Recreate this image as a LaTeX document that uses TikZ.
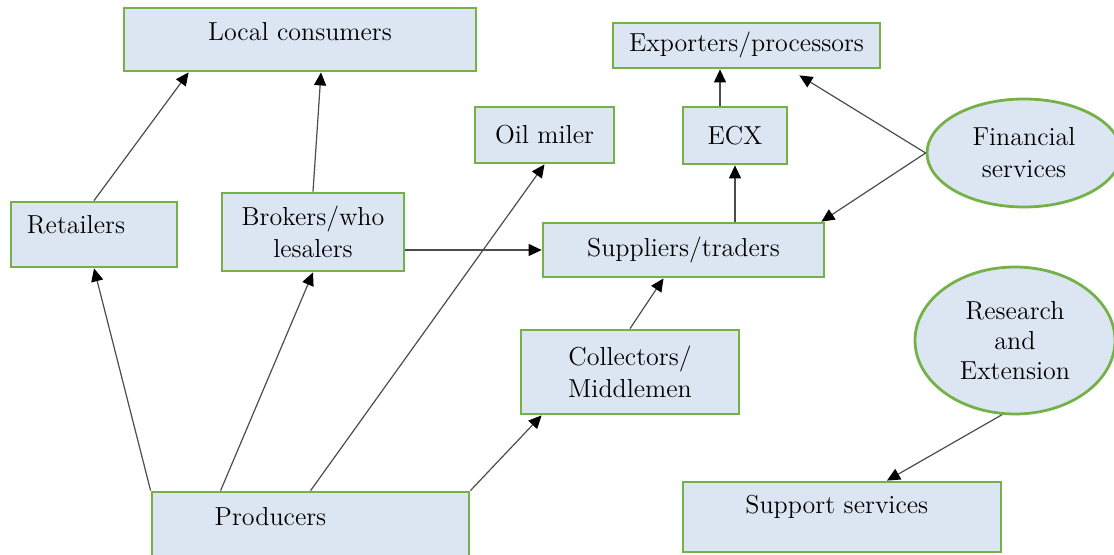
\documentclass[tikz,border=0pt]{standalone}
\usetikzlibrary{arrows.meta,shapes.geometric}

\definecolor{boxfill}{RGB}{220,230,242}
\definecolor{boxline}{RGB}{116,178,72}

\begin{document}
\begin{tikzpicture}[x=0.5pt,y=-0.5pt,
	box/.style={rectangle, draw=boxline, fill=boxfill, line width=1.4pt, inner sep=0pt, align=center, font=\fontsize{13}{16}\selectfont},
	oval/.style={box, ellipse},
	lbl/.style={inner sep=0pt, font=\fontsize{13}{16}\selectfont},
	flow/.style={draw=black!70, line width=0.6pt, -{Triangle[length=6.5pt,width=6pt,color=black]}}]
	\useasboundingbox (0,0) rectangle (1114,555);

	% boxes
	\node[box, minimum width=176pt, minimum height=31.5pt] (loc) at (300,39.5) {};
	\node[lbl] (loctxt) at ([yshift=3.75pt]loc.center) {Local consumers};
	\node[box, minimum width=133.5pt, minimum height=22.5pt] (exp) at (746.5,45.5) {Exporters/processors};
	\node[box, minimum width=69.5pt, minimum height=28pt] (oil) at (544.5,135) {Oil miler};
	\node[box, minimum width=52pt, minimum height=28.5pt] (ecx) at (735,135.5) {ECX};
	\node[box, minimum width=83pt, minimum height=32.5pt] (ret) at (94,234.5) {};
	\node[lbl] (rettxt) at ([xshift=-9pt,yshift=4.75pt]ret.center) {Retailers};
	\node[box, minimum width=91pt, minimum height=39pt] (brk) at (313,232) {Brokers/who\\lesalers};
	\node[box, minimum width=140.5pt, minimum height=27pt] (sup) at (683.5,250) {Suppliers/traders};
	\node[box, minimum width=109pt, minimum height=42pt] (col) at (630,372) {Collectors/\\Middlemen};
	\node[box, minimum width=158.5pt, minimum height=34pt] (prod) at (310.5,526) {};
	\node[lbl] (prodtxt) at ([xshift=-20pt,yshift=4.5pt]prod.center) {Producers};
	\node[box, minimum width=159pt, minimum height=35pt] (spt) at (842,517) {};
	\node[lbl] (spttxt) at ([xshift=-2.6pt,yshift=5pt]spt.center) {Support services};

	% services
	\begin{scope}[every node/.append style={oval}]
		\node[minimum width=97pt, minimum height=54pt] (fin) at (1024,153) {Financial\\services};
		\node[minimum width=100pt, minimum height=73.5pt, font=\fontsize{13}{15}\selectfont] (res) at (1015,340.5) {Research\\and\\Extension};
	\end{scope}

	\coordinate (ecxtop) at ([xshift=-7.5pt]ecx.north);

	\draw[flow] (ret.north) -- ([xshift=33pt]loc.south west);
	\draw[flow] (brk.north) -- ([xshift=10.5pt]loc.south);
	\draw[flow] (brk.east |- sup.west) -- (sup.west);
	\draw[flow] (ecx.south |- sup.north) -- (ecx.south);
	\draw[flow] (ecxtop) -- (ecxtop |- exp.south);
	\draw[flow] (fin.west) -- ([xshift=-41pt,yshift=-3pt]exp.south east);
	\draw[flow] (fin.west) -- ([xshift=-2pt]sup.north east);
	\draw[flow] (col.north) -- ([xshift=-10pt]sup.south);
	\draw[flow] (prod.north east) -- ([xshift=11pt]col.south west);
	\draw[flow] (prod.north west) -- (ret.south);
	\draw[flow] ([xshift=35pt]prod.north west) -- (brk.south);
	\draw[flow] ([xshift=80pt]prod.north west) -- (oil.south);
	\draw[flow] (res.260) -- ([xshift=22.5pt]spt.north);
\end{tikzpicture}
\end{document}
